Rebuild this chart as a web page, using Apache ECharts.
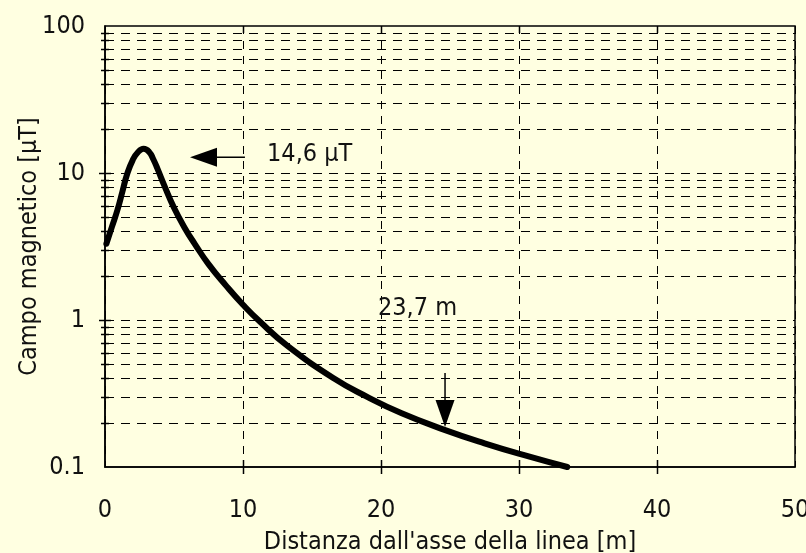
<!DOCTYPE html>
<html><head><meta charset="utf-8">
<script src="https://cdn.jsdelivr.net/npm/echarts@6/dist/echarts.min.js"></script>
<style>html,body{margin:0;padding:0;background:#FFFFE1}#c{width:806px;height:553px}</style>
</head><body><div id="c"></div>
<script>
// Curve: distance from the line axis [m] vs magnetic field [µT]
const distance = [0.1, 0.5, 0.9, 1.25, 1.6, 2.0, 2.4, 2.8, 3.2, 3.5, 3.8, 4.3, 5.0, 5.8, 6.5, 7.5, 8.8, 10.0, 11.2, 13.2, 16.6, 19.0, 21.5, 24.6, 27.5, 30.7, 33.5];
const field    = [3.3, 4.3, 5.6, 7.4, 9.8, 12.2, 13.9, 14.6, 13.9, 12.4, 10.7, 8.2, 5.8, 4.2, 3.3, 2.4, 1.7, 1.27, 0.98, 0.67, 0.40, 0.30, 0.232, 0.179, 0.145, 0.118, 0.10];

// Axes
const xMin = 0, xMax = 50, xStep = 10;
const yMin = 0.1, yMax = 100;
const xTickLabels = ['0', '10', '20', '30', '40', '50'];
const yTickLabels = ['0.1', '1', '10', '100'];
const yMajor = [1, 10];
const yMinor = [0.2,0.3,0.4,0.5,0.6,0.7,0.8,0.9, 2,3,4,5,6,7,8,9, 20,30,40,50,60,70,80,90];
const xInner = [10, 20, 30, 40];

// Annotations
const arrowFromX = [10.14, 24.64];
const arrowFromY = [12.8, 0.436];
const arrowToX   = [6.16, 24.64];
const arrowToY   = [12.8, 0.187];
const noteText = ['14,6 µT', '23,7 m'];
const noteX    = [11.74, 19.78];
const noteY    = [13.46, 1.19];

const FONT = "'DejaVu Sans Condensed','Liberation Sans Narrow',sans-serif";
const FS = 25;

const chart = echarts.init(document.getElementById('c'), null, {renderer: 'canvas'});
const px = v => Math.round(v) + 0.5;

const gridLines = yMinor.concat(yMajor).map(v => [v, yMajor.indexOf(v) >= 0 ? 1 : 0]);
const arrows = arrowFromX.map((x, i) => [x, arrowFromY[i], arrowToX[i], arrowToY[i]]);
const notes = noteText.map((t, i) => [noteX[i], noteY[i], t]);

chart.setOption({
  backgroundColor: '#FFFFE1',
  animation: false,
  grid: {left: 105, right: 11, top: 26, bottom: 86, containLabel: false, outerBoundsMode: 'none',
         show: true, borderColor: '#000', borderWidth: 1.5, backgroundColor: 'transparent'},
  xAxis: {
    type: 'value', min: xMin, max: xMax, interval: xStep,
    name: "Distanza dall'asse della linea [m]", nameLocation: 'middle', nameGap: 63, nameMoveOverlap: false,
    nameTextStyle: {fontFamily: FONT, fontSize: FS, color: '#111'},
    axisLine: {show: true, lineStyle: {color: '#000', width: 1.5}},
    axisTick: {show: false},
    axisLabel: {margin: 31, fontFamily: FONT, fontSize: FS, color: '#111',
      formatter: v => xTickLabels[Math.round((v - xMin) / xStep)]},
    splitLine: {show: true, lineStyle: {color: '#000', width: 1, type: [8, 7]}}
  },
  yAxis: {
    type: 'log', logBase: 10, min: yMin, max: yMax,
    name: 'Campo magnetico [µT]', nameLocation: 'middle', nameGap: 63, nameMoveOverlap: false,
    nameTextStyle: {fontFamily: FONT, fontSize: FS, color: '#111'},
    axisLine: {show: true, lineStyle: {color: '#000', width: 1.5}},
    axisTick: {show: false},
    axisLabel: {margin: 20, fontFamily: FONT, fontSize: FS, color: '#111',
      formatter: v => yTickLabels[Math.round(Math.log10(v / yMin))]},
    splitLine: {show: false}
  },
  series: [
    {
      type: 'custom', name: 'grid', silent: true, clip: false, z: 1,
      data: gridLines,
      renderItem: (params, api) => {
        const v = api.value(0), major = api.value(1);
        const a = api.coord([xMin, v]), b = api.coord([xMax, v]);
        const y = px(a[1]);
        const t = major ? 6 : 4;
        return {type: 'group', children: [
          {type: 'line', shape: {x1: a[0], y1: y, x2: b[0], y2: y}, style: {stroke: '#000', lineWidth: 1, lineDash: [9, 7]}},
          {type: 'line', shape: {x1: a[0] - t, y1: y, x2: a[0] + t, y2: y}, style: {stroke: '#000', lineWidth: 1.5}}
        ]};
      }
    },
    {
      type: 'custom', name: 'xticks', silent: true, clip: false, z: 3,
      data: xInner.map(v => [v]),
      renderItem: (params, api) => {
        const v = api.value(0);
        const a = api.coord([v, yMin]), b = api.coord([v, yMax]);
        const x = px(a[0]);
        return {type: 'group', children: [
          {type: 'line', shape: {x1: x, y1: a[1] - 7, x2: x, y2: a[1] + 7}, style: {stroke: '#000', lineWidth: 1.5}},
          {type: 'line', shape: {x1: x, y1: b[1], x2: x, y2: b[1] + 7}, style: {stroke: '#000', lineWidth: 1.5}}
        ]};
      }
    },
    {
      type: 'line', name: 'campo', data: distance.map((d, i) => [d, field[i]]),
      showSymbol: false, smooth: 0.5, z: 5,
      lineStyle: {color: '#000', width: 6, cap: 'round', join: 'round'}
    },
    {
      type: 'custom', name: 'arrows', silent: true, clip: false, z: 6,
      data: arrows,
      renderItem: (params, api) => {
        const a = api.coord([api.value(0), api.value(1)]);
        const b = api.coord([api.value(2), api.value(3)]);
        const dx = b[0] - a[0], dy = b[1] - a[1];
        const L = Math.hypot(dx, dy), ux = dx / L, uy = dy / L;
        const hl = 27, hw = 9.5;
        const base = [b[0] - ux * hl, b[1] - uy * hl];
        const nx = -uy, ny = ux;
        return {type: 'group', children: [
          {type: 'line', shape: {x1: a[0], y1: a[1], x2: base[0], y2: base[1]}, style: {stroke: '#000', lineWidth: 1.5}},
          {type: 'polygon', shape: {points: [b, [base[0] + nx * hw, base[1] + ny * hw], [base[0] - nx * hw, base[1] - ny * hw]]}, style: {fill: '#000'}}
        ]};
      }
    },
    {
      type: 'custom', name: 'notes', silent: true, clip: false, z: 6,
      data: notes,
      renderItem: (params, api) => {
        const it = notes[params.dataIndex];
        const p = api.coord([it[0], it[1]]);
        return {type: 'text', x: p[0], y: p[1], style: {text: it[2], fontFamily: FONT, fontSize: FS, fill: '#111', align: 'left', verticalAlign: 'middle'}};
      }
    }
  ]
});
</script></body></html>
